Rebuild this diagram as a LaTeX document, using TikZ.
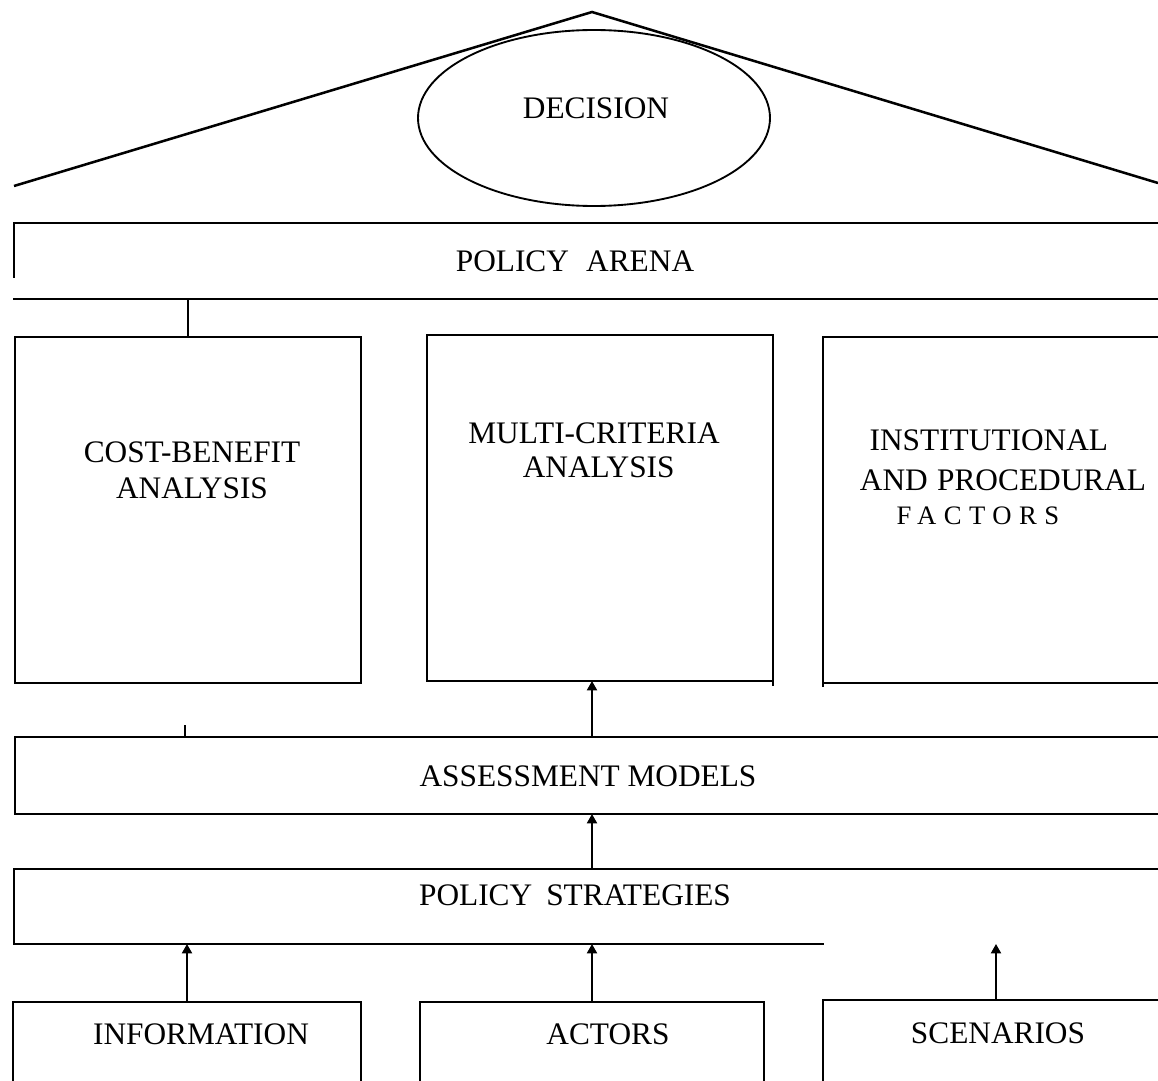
\documentclass[tikz,border=0pt]{standalone}
\usepackage{fontspec}
\setmainfont{Liberation Serif}
\usetikzlibrary{fit,arrows.meta,shapes.geometric}
\begin{document}
\begin{tikzpicture}[x=0.75pt,y=-0.75pt,
  ln/.style={line width=1.4pt, line cap=rect},
  area/.style={inner sep=0pt, outer sep=0pt},
  lbl/.style={font=\fontsize{23.5}{27}\selectfont, align=center, inner sep=0pt, outer sep=0pt},
  arr/.style={line width=1.4pt, -{Triangle[length=7pt,width=7.5pt]}}]
\useasboundingbox (0,0) rectangle (1158,1081);

% roof and decision
\coordinate (apex) at (592,12);
\coordinate (eaveL) at (14,186);
\coordinate (eaveR) at (1158,183);
\draw[line width=1.9pt] (eaveL) -- (apex) -- (eaveR);
\node[draw, ellipse, line width=1.4pt, minimum width=352*0.75pt, minimum height=176*0.75pt, inner sep=0pt] (dec) at (594,118) {};
\node[lbl] (dectext) at (596,108) {DECISION};

% policy arena
\node[area, fit={(14,223) (1158,299)}] (pa) {};
\draw[ln] (pa.north west) -- (pa.north east);
\draw[ln] (pa.north west) -- ++(0,54);
\draw[ln] (pa.south west) -- (pa.south east);
\node[lbl] (patext) at (575,261) {POLICY\hspace{0.55em}ARENA};

% three analysis boxes
\node[area, draw, ln, fit={(15,337) (361,683)}] (cba) {};
\node[area, draw, ln, fit={(427,335) (773,681)}] (mca) {};
\node[area, fit={(823,337) (1158,683)}] (inst) {};
\draw[ln] (inst.north east) -- (inst.north west) -- ([yshift=-2pt]inst.south west);
\draw[ln] (inst.south west) -- (inst.south east);
\draw[ln] (mca.south east) -- ++(0,4);
\draw[ln] (cba.north) -- (cba.north |- pa.south);

\node[lbl, anchor=north] (cbatext) at (192,442) {COST-BENEFIT\\ANALYSIS};
\node[lbl, anchor=north, font=\fontsize{23.5}{25.5}\selectfont] (mcatext) at (594,423) {MULTI-CRITERIA\\\hspace{0.3em}ANALYSIS};
\node[lbl, anchor=north, font=\fontsize{23.5}{30}\selectfont] (insttext) at (1003,430)
  {\hspace{-0.9em}INSTITUTIONAL\\AND\hspace{0.3em}PROCEDURAL\\[-4.5pt]\hspace{-1.6em}{\fontsize{20}{21}\selectfont\addfontfeature{LetterSpace=28}FACTORS}};

% assessment models
\node[area, fit={(15,737) (1158,814)}] (am) {};
\draw[ln] (am.north east) -- (am.north west) -- (am.south west) -- (am.south east);
\draw[ln] (am.north west) ++(170,0) coordinate (tick) -- ++(0,-11);
\node[lbl, anchor=base] (amtext) at (588,786) {ASSESSMENT MODELS};

% policy strategies
\node[area, fit={(14,869) (1158,944)}] (ps) {};
\draw[ln] (ps.north east) -- (ps.north west) -- (ps.south west) -- (ps.south west -| inst.west);
\node[lbl, anchor=base] (pstext) at (575,905) {POLICY\hspace{0.45em}STRATEGIES};

% bottom boxes
\node[area, fit={(13,1002) (361,1081)}] (info) {};
\node[area, fit={(420,1002) (764,1081)}] (act) {};
\node[area, fit={(823,1000) (1169,1081)}] (scen) {};
\draw[ln] (info.south west) -- (info.north west) -- (info.north east) -- (info.south east);
\draw[ln] (act.south west) -- (act.north west) -- (act.north east) -- (act.south east);
\draw[ln] (scen.south west) -- (scen.north west) -- (scen.north west -| pa.east);
\node[lbl, anchor=base] (infotext) at (201,1044) {INFORMATION};
\node[lbl, anchor=base] (acttext) at (608,1044) {ACTORS};
\node[lbl, anchor=base] (scentext) at (998,1043) {SCENARIOS};

% arrows
\coordinate (spine) at (592,0);
\draw[arr] (spine |- am.north) -- (spine |- mca.south);
\draw[arr] (spine |- ps.north) -- (spine |- am.south);
\draw[arr] (info.north) -- (info.north |- ps.south);
\draw[arr] (act.north) -- (act.north |- ps.south);
\draw[arr] (scen.north) -- (scen.north |- ps.south);
\end{tikzpicture}
\end{document}
